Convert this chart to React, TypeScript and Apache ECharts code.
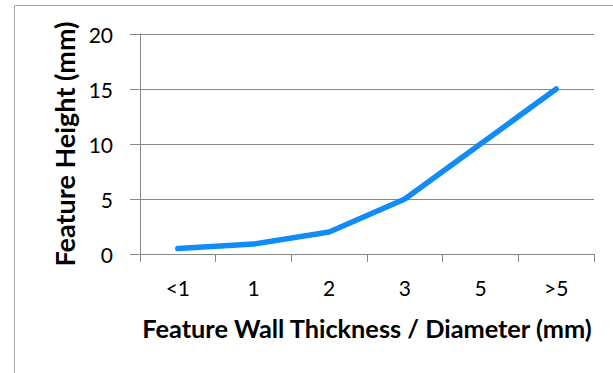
import React, { useEffect, useRef } from "react";
import * as echarts from "echarts";

const categories = ["<1", "1", "2", "3", "5", ">5"];
const heights = [0.5, 0.9, 2, 5, 10, 15];
const yTicks = { min: 0, max: 20, interval: 5 };
const xTitle = "Feature Wall Thickness / Diameter (mm)";
const yTitle = "Feature Height (mm)";

export default function App() {
  const ref = useRef<HTMLDivElement>(null);
  useEffect(() => {
    const chart = echarts.init(ref.current!, null, { renderer: "svg" });
    const font = "Lato, 'Open Sans', sans-serif";
    chart.setOption({
      animation: false,
      backgroundColor: "#ffffff",
      graphic: [
        {
          type: "rect",
          shape: { x: 14.5, y: 5.5, width: 700, height: 500 },
          style: { fill: "none", stroke: "#a6a6a6", lineWidth: 1 },
          silent: true,
        },
      ],
      grid: { left: 140, top: 34, right: 19, bottom: 119, containLabel: false },
      xAxis: {
        type: "category",
        data: categories,
        boundaryGap: true,
        name: xTitle,
        nameLocation: "middle",
        nameGap: 61,
        nameTextStyle: { fontFamily: font, fontSize: 25.3, fontWeight: "bold", color: "#000" },
        axisLine: { lineStyle: { color: "#878787", width: 1 } },
        axisTick: { show: true, length: 8, inside: false, lineStyle: { color: "#878787" } },
        axisLabel: { fontFamily: font, fontSize: 21, color: "#000", margin: 23 },
      },
      yAxis: {
        type: "value",
        min: yTicks.min,
        max: yTicks.max,
        interval: yTicks.interval,
        name: yTitle,
        nameLocation: "middle",
        nameGap: 62,
        nameTextStyle: { fontFamily: font, fontSize: 27, fontWeight: "bold", color: "#000" },
        axisLine: { show: true, lineStyle: { color: "#878787", width: 1 } },
        axisTick: { show: true, length: 10, inside: false, lineStyle: { color: "#878787" } },
        axisLabel: { fontFamily: font, fontSize: 21, color: "#000", margin: 27 },
        splitLine: { show: true, lineStyle: { color: "#878787", width: 1 } },
      },
      series: [
        {
          type: "line",
          data: heights,
          symbol: "none",
          lineStyle: { color: "#0f8cf5", width: 5.5, cap: "round", join: "round" },
        },
      ],
    });
    return () => chart.dispose();
  }, []);
  return (
    <div
      ref={ref}
      style={{ position: "fixed", left: 0, top: 0, width: 613, height: 373 }}
    />
  );
}
